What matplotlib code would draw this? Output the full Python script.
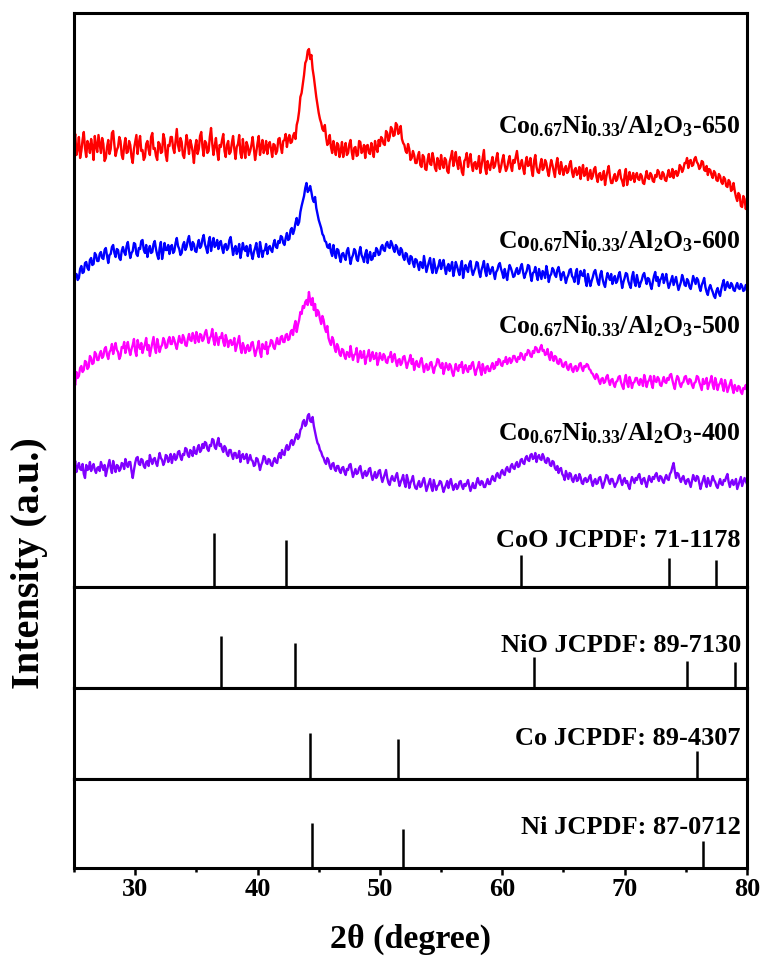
import numpy as np
import matplotlib
matplotlib.use("Agg")
import matplotlib.pyplot as plt

plt.rcParams.update({
    "font.family": ["Liberation Serif", "DejaVu Serif"],
    "font.weight": "bold",
    "mathtext.default": "regular",
})

# 2theta grid, 0.1 deg step from 25 to 80
two_theta = np.linspace(25.0, 80.0, 551)

# intensities (a.u.), each curve relative to its own baseline; one row = 2 deg
cnao_650 = [
    72, 81, 60, 66, 78, 57, 64, 75, 83, 67, 58, 74, 70, 62, 76, 68, 55, 79, 69, 63,
    80, 71, 62, 77, 71, 54, 57, 68, 75, 61, 66, 82, 84, 70, 59, 65, 68, 78, 74, 60,
    56, 69, 77, 62, 63, 74, 70, 58, 52, 66, 73, 80, 61, 72, 79, 64, 65, 55, 58, 71,
    74, 65, 60, 78, 82, 66, 67, 59, 55, 73, 71, 62, 63, 81, 76, 60, 54, 70, 69, 78,
    78, 67, 62, 74, 86, 70, 64, 77, 73, 60, 57, 69, 80, 72, 61, 75, 70, 63, 52, 68,
    75, 61, 66, 79, 83, 68, 59, 74, 72, 62, 64, 78, 87, 71, 60, 69, 77, 64, 55, 70,
    68, 75, 81, 64, 58, 70, 74, 61, 63, 72, 79, 66, 56, 68, 71, 80, 62, 57, 76, 65,
    57, 73, 69, 60, 64, 70, 78, 66, 55, 63, 72, 79, 60, 68, 75, 62, 66, 74, 61, 70,
    73, 66, 58, 71, 70, 61, 64, 76, 77, 68, 62, 74, 75, 81, 68, 76, 80, 72, 73, 79,
    82, 76, 90, 95, 104, 118, 122, 131, 140, 152, 155, 164, 166, 156, 160, 146, 138, 128, 118, 110,
    102, 96, 92, 86, 84, 90, 78, 70, 72, 80, 68, 62, 74, 66, 60, 72, 70, 58, 64, 73,
    58, 66, 72, 60, 62, 71, 75, 63, 56, 67, 68, 59, 60, 74, 73, 62, 64, 70, 57, 69,
    70, 62, 61, 72, 66, 58, 74, 67, 63, 75, 69, 78, 76, 71, 70, 84, 82, 74, 78, 88,
    86, 79, 80, 92, 90, 81, 84, 89, 76, 72, 70, 64, 62, 71, 66, 55, 57, 64, 60, 52,
    52, 59, 63, 50, 48, 60, 58, 46, 45, 55, 61, 51, 50, 62, 56, 47, 44, 57, 53, 46,
    60, 51, 47, 57, 55, 44, 42, 53, 58, 64, 49, 55, 63, 52, 46, 58, 52, 43, 40, 54,
    56, 62, 48, 55, 61, 50, 44, 52, 53, 46, 50, 59, 42, 49, 57, 65, 47, 41, 54, 49,
    45, 52, 58, 47, 49, 56, 62, 51, 43, 48, 55, 60, 50, 44, 47, 54, 59, 49, 44, 55,
    52, 58, 64, 54, 46, 50, 55, 47, 41, 52, 58, 49, 50, 57, 45, 39, 54, 60, 48, 43,
    42, 50, 56, 45, 47, 55, 52, 44, 39, 48, 55, 50, 44, 38, 50, 57, 46, 41, 53, 47,
    40, 46, 49, 42, 44, 51, 54, 43, 38, 45, 47, 40, 42, 48, 36, 44, 50, 39, 41, 47,
    35, 40, 45, 36, 39, 46, 48, 38, 33, 41, 42, 35, 37, 44, 30, 38, 44, 49, 38, 32,
    32, 38, 41, 34, 36, 43, 45, 37, 34, 29, 40, 46, 30, 36, 43, 35, 37, 42, 33, 39,
    42, 36, 35, 41, 39, 32, 31, 38, 44, 37, 36, 42, 40, 34, 33, 40, 38, 45, 43, 37,
    36, 43, 41, 35, 34, 40, 45, 38, 39, 46, 37, 43, 44, 39, 42, 50, 48, 43, 46, 52,
    52, 57, 47, 54, 55, 49, 50, 56, 58, 53, 51, 46, 48, 54, 53, 45, 44, 49, 40, 46,
    45, 40, 37, 44, 42, 35, 34, 41, 39, 33, 31, 38, 36, 29, 28, 35, 33, 24, 26, 32,
    24, 18, 14, 22, 20, 9, 8, 19, 16, 6, 12,
]
cnao_600 = [
    18, 24, 26, 20, 22, 31, 34, 27, 28, 37, 38, 32, 30, 40, 42, 35, 36, 47, 45, 39,
    39, 46, 48, 42, 41, 50, 52, 44, 37, 45, 46, 53, 55, 47, 43, 51, 50, 42, 40, 49,
    53, 48, 45, 54, 58, 49, 42, 47, 49, 57, 56, 46, 44, 52, 51, 59, 60, 50, 47, 55,
    43, 50, 54, 47, 48, 56, 59, 51, 45, 41, 52, 58, 41, 48, 57, 50, 50, 55, 46, 53,
    55, 47, 49, 57, 62, 54, 51, 45, 47, 55, 58, 50, 53, 60, 64, 55, 50, 58, 56, 49,
    48, 55, 60, 52, 54, 61, 65, 56, 52, 47, 58, 63, 49, 56, 62, 53, 55, 60, 51, 57,
    59, 52, 47, 55, 56, 50, 52, 60, 63, 54, 45, 51, 54, 46, 50, 56, 42, 49, 57, 51,
    49, 54, 44, 50, 55, 46, 41, 48, 52, 57, 47, 43, 58, 51, 43, 49, 50, 56, 46, 52,
    54, 50, 48, 56, 60, 53, 52, 59, 57, 64, 63, 57, 55, 62, 67, 60, 61, 70, 72, 66,
    70, 77, 82, 75, 78, 88, 94, 99, 104, 112, 117, 108, 110, 114, 108, 101, 98, 103, 92, 86,
    80, 76, 72, 66, 64, 59, 58, 53, 52, 56, 48, 44, 55, 47, 42, 51, 50, 43, 38, 46,
    47, 43, 40, 49, 52, 44, 36, 42, 45, 51, 49, 41, 39, 47, 53, 45, 42, 38, 46, 50,
    37, 44, 48, 40, 41, 47, 44, 52, 50, 45, 46, 53, 55, 50, 49, 56, 58, 53, 52, 59,
    56, 51, 48, 55, 53, 47, 45, 52, 50, 43, 40, 47, 46, 39, 36, 44, 43, 37, 33, 41,
    40, 35, 30, 38, 37, 32, 44, 36, 28, 33, 38, 42, 32, 27, 41, 34, 27, 31, 35, 40,
    31, 36, 40, 32, 26, 33, 36, 29, 33, 38, 24, 30, 38, 34, 29, 25, 34, 39, 22, 30,
    35, 31, 28, 36, 39, 30, 25, 29, 32, 38, 37, 28, 23, 30, 34, 39, 29, 24, 36, 31,
    26, 30, 33, 27, 21, 28, 30, 35, 37, 31, 27, 22, 31, 25, 20, 29, 35, 32, 28, 23,
    24, 29, 32, 26, 27, 33, 36, 28, 22, 26, 29, 35, 34, 25, 19, 27, 28, 33, 25, 20,
    31, 26, 21, 29, 27, 22, 34, 28, 18, 24, 26, 32, 30, 25, 23, 30, 33, 27, 20, 26,
    28, 23, 17, 22, 25, 30, 31, 24, 22, 18, 27, 31, 16, 22, 29, 25, 24, 30, 19, 14,
    26, 20, 14, 19, 23, 28, 30, 24, 18, 15, 25, 29, 21, 16, 13, 21, 27, 23, 20, 26,
    16, 21, 24, 17, 19, 25, 28, 20, 12, 18, 22, 27, 26, 19, 15, 12, 23, 28, 18, 14,
    25, 19, 13, 17, 20, 25, 27, 21, 16, 22, 21, 15, 11, 18, 24, 28, 19, 23, 14, 20,
    22, 26, 17, 21, 26, 18, 12, 16, 20, 24, 15, 19, 23, 16, 10, 14, 18, 25, 21, 15,
    14, 21, 19, 13, 11, 17, 24, 20, 16, 22, 20, 13, 9, 15, 18, 22, 13, 8, 5, 12,
    15, 11, 8, 4, 2, 9, 12, 7, 4, 11, 16, 20, 10, 14, 18, 13, 12, 17, 15, 10,
    9, 14, 17, 12, 11, 16, 14, 9, 10, 15, 13,
]
cnao_500 = [
    20, 15, 28, 22, 24, 32, 34, 28, 30, 39, 38, 31, 33, 44, 42, 36, 37, 48, 46, 40,
    40, 46, 49, 42, 44, 51, 53, 45, 41, 48, 50, 56, 46, 52, 57, 50, 48, 41, 44, 53,
    52, 58, 47, 53, 58, 50, 45, 51, 55, 61, 49, 44, 60, 54, 51, 57, 47, 52, 56, 62,
    50, 55, 44, 51, 57, 63, 52, 47, 61, 55, 48, 53, 55, 62, 59, 52, 53, 60, 63, 56,
    56, 63, 60, 55, 51, 58, 64, 58, 57, 65, 62, 55, 54, 61, 66, 60, 59, 67, 63, 57,
    68, 62, 58, 66, 65, 59, 61, 67, 70, 63, 57, 62, 64, 71, 60, 55, 67, 61, 55, 63,
    62, 67, 58, 54, 65, 60, 53, 59, 60, 55, 56, 62, 49, 54, 59, 64, 52, 47, 57, 53,
    47, 52, 55, 49, 50, 57, 58, 51, 44, 49, 53, 59, 48, 43, 56, 52, 51, 58, 46, 53,
    54, 60, 59, 53, 51, 57, 62, 56, 56, 63, 64, 58, 58, 65, 66, 60, 61, 68, 70, 65,
    74, 79, 68, 75, 80, 88, 86, 94, 92, 98, 100, 95, 108, 99, 95, 102, 90, 96, 84, 90,
    88, 81, 76, 84, 80, 72, 68, 74, 62, 58, 55, 63, 60, 52, 48, 56, 53, 46, 44, 51,
    50, 44, 41, 48, 47, 43, 54, 46, 40, 45, 46, 52, 38, 44, 49, 42, 43, 49, 36, 42,
    45, 50, 39, 44, 48, 41, 42, 47, 35, 40, 47, 42, 40, 46, 44, 38, 37, 43, 43, 48,
    38, 43, 46, 39, 34, 40, 41, 35, 37, 43, 44, 38, 32, 37, 40, 45, 36, 41, 30, 36,
    39, 34, 33, 39, 42, 35, 28, 34, 36, 30, 31, 37, 38, 32, 27, 33, 35, 41, 40, 34,
    32, 37, 26, 31, 37, 33, 30, 36, 34, 28, 24, 30, 36, 31, 29, 35, 33, 38, 27, 32,
    35, 30, 28, 34, 31, 36, 38, 31, 25, 30, 33, 38, 30, 25, 36, 31, 27, 33, 34, 29,
    29, 34, 37, 31, 32, 38, 35, 41, 40, 35, 34, 39, 38, 43, 36, 40, 42, 37, 39, 44,
    44, 40, 38, 43, 41, 47, 46, 41, 40, 46, 45, 50, 49, 44, 43, 49, 47, 53, 52, 48,
    48, 52, 55, 49, 50, 45, 46, 51, 44, 40, 48, 43, 39, 44, 43, 37, 36, 41, 40, 34,
    33, 37, 38, 32, 30, 35, 36, 30, 28, 33, 34, 29, 31, 36, 37, 32, 29, 34, 33, 36,
    35, 31, 30, 27, 26, 23, 21, 26, 24, 19, 16, 21, 22, 17, 18, 23, 25, 19, 15, 20,
    21, 16, 13, 18, 19, 23, 24, 18, 14, 11, 20, 25, 17, 13, 23, 19, 12, 17, 18, 22,
    22, 17, 15, 21, 19, 14, 25, 20, 13, 18, 20, 24, 16, 12, 24, 19, 18, 23, 21, 15,
    14, 19, 23, 18, 17, 22, 20, 25, 26, 20, 15, 11, 19, 24, 22, 16, 13, 17, 18, 23,
    24, 19, 16, 21, 20, 15, 12, 17, 18, 24, 23, 18, 14, 10, 21, 16, 17, 22, 11, 16,
    19, 24, 15, 11, 22, 17, 10, 15, 17, 21, 14, 9, 20, 15, 8, 12, 16, 20, 12, 7,
    15, 11, 9, 14, 13, 8, 6, 12, 11, 15, 10,
]
cnao_400 = [
    34, 39, 28, 33, 37, 31, 30, 36, 26, 22, 35, 30, 31, 38, 29, 33, 36, 30, 27, 32,
    33, 29, 38, 34, 30, 35, 24, 30, 35, 40, 32, 27, 39, 33, 28, 35, 34, 29, 31, 37,
    36, 31, 41, 36, 33, 38, 38, 29, 22, 30, 37, 42, 43, 36, 35, 41, 40, 34, 32, 38,
    39, 34, 45, 40, 36, 41, 42, 37, 34, 41, 47, 42, 40, 35, 38, 45, 44, 38, 41, 46,
    37, 43, 46, 40, 42, 48, 49, 43, 40, 46, 45, 52, 51, 45, 43, 50, 48, 44, 53, 47,
    46, 52, 55, 48, 50, 56, 52, 58, 57, 51, 49, 55, 54, 61, 60, 53, 51, 57, 62, 54,
    56, 51, 48, 54, 52, 46, 44, 50, 50, 45, 41, 47, 47, 42, 43, 49, 38, 44, 46, 41,
    42, 46, 37, 41, 45, 40, 39, 34, 35, 42, 41, 36, 30, 35, 38, 44, 43, 37, 36, 41,
    40, 35, 34, 39, 42, 38, 37, 44, 47, 42, 50, 46, 45, 52, 55, 50, 52, 58, 60, 55,
    58, 63, 66, 61, 63, 70, 72, 78, 80, 74, 76, 84, 86, 79, 78, 83, 74, 68, 62, 57,
    55, 50, 48, 44, 42, 38, 36, 42, 40, 34, 31, 36, 37, 31, 29, 34, 34, 29, 27, 32,
    33, 28, 25, 31, 30, 35, 36, 29, 23, 27, 31, 26, 27, 32, 34, 27, 22, 27, 29, 24,
    26, 31, 32, 25, 20, 24, 28, 22, 24, 29, 30, 23, 18, 22, 26, 30, 22, 17, 15, 21,
    24, 20, 19, 24, 27, 20, 14, 18, 21, 25, 17, 13, 25, 20, 12, 17, 20, 24, 16, 12,
    11, 16, 19, 13, 14, 19, 22, 16, 9, 13, 17, 21, 13, 9, 20, 15, 10, 14, 15, 19,
    18, 13, 8, 12, 15, 19, 12, 17, 21, 15, 10, 14, 16, 11, 13, 18, 19, 14, 11, 16,
    14, 17, 20, 14, 9, 13, 17, 12, 12, 18, 22, 17, 15, 19, 18, 13, 13, 17, 21, 16,
    16, 21, 24, 20, 19, 25, 27, 23, 22, 28, 30, 26, 25, 31, 33, 29, 28, 34, 36, 32,
    31, 36, 38, 33, 34, 40, 41, 37, 36, 42, 44, 40, 39, 45, 46, 41, 42, 47, 38, 43,
    45, 41, 40, 46, 43, 38, 37, 42, 41, 35, 34, 39, 38, 32, 30, 34, 27, 31, 32, 26,
    24, 20, 29, 25, 21, 27, 26, 20, 18, 23, 25, 19, 20, 26, 23, 17, 16, 21, 22, 18,
    19, 23, 25, 18, 14, 19, 21, 16, 17, 22, 23, 18, 12, 16, 20, 25, 24, 19, 16, 21,
    21, 17, 13, 16, 18, 23, 25, 19, 15, 20, 22, 17, 19, 14, 11, 18, 23, 20, 17, 22,
    20, 24, 26, 20, 16, 21, 22, 17, 13, 19, 24, 20, 18, 23, 21, 25, 27, 22, 19, 24,
    23, 19, 17, 22, 25, 21, 20, 26, 28, 33, 37, 29, 22, 27, 26, 21, 18, 22, 24, 19,
    16, 20, 21, 17, 13, 19, 25, 21, 19, 24, 23, 17, 11, 16, 20, 24, 17, 13, 22, 18,
    14, 19, 24, 20, 18, 14, 12, 17, 21, 16, 15, 20, 19, 23, 26, 18, 13, 18, 20, 15,
    17, 21, 11, 15, 19, 23, 14, 18, 22, 19, 16,
]

curve_labels = [
    r"Co$_{0.67}$Ni$_{0.33}$/Al$_2$O$_3$-650",
    r"Co$_{0.67}$Ni$_{0.33}$/Al$_2$O$_3$-600",
    r"Co$_{0.67}$Ni$_{0.33}$/Al$_2$O$_3$-500",
    r"Co$_{0.67}$Ni$_{0.33}$/Al$_2$O$_3$-400",
]
curves = [cnao_650, cnao_600, cnao_500, cnao_400]
curve_colors = ["#ff0000", "#0000ff", "#ff00ff", "#8000ff"]
curve_offsets = [372, 287, 187, 87]
label_y = [454, 339, 254, 147]

# reference patterns: positions (2theta) and relative intensities
coo_pos = [36.45, 42.35, 61.5, 73.65, 77.5]
coo_int = [100, 87, 59, 54, 50]
nio_pos = [37.05, 43.05, 62.6, 75.1, 79.05]
nio_int = [100, 87, 60, 52, 50]
co_pos = [44.25, 51.5, 75.95]
co_int = [100, 87, 61]
ni_pos = [44.45, 51.85, 76.4]
ni_int = [100, 87, 60]

for c in curves:
    assert len(c) == len(two_theta), len(c)

W, H = 761, 956
fig = plt.figure(figsize=(W / 100, H / 100), dpi=100)


def px_axes(left, top, right, bottom):
    return fig.add_axes([left / W, 1 - bottom / H, (right - left) / W, (bottom - top) / H])


ax_top = px_axes(74, 13, 747, 587)
ax_nio = px_axes(74, 587, 747, 688)
ax_co = px_axes(74, 688, 747, 779)
ax_ni = px_axes(74, 779, 747, 868)
all_axes = [ax_top, ax_nio, ax_co, ax_ni]

for ax in all_axes:
    ax.set_xlim(25, 80)
    ax.set_yticks([])
    for sp in ax.spines.values():
        sp.set_linewidth(2.2)
    if ax is not ax_ni:
        ax.tick_params(bottom=False, labelbottom=False)

# top panel: measured patterns + CoO reference
ax_top.set_ylim(0, 574)
for vals, col, off, lab, ly in zip(curves, curve_colors, curve_offsets, curve_labels, label_y):
    ax_top.plot(two_theta, off + np.asarray(vals), color=col, lw=1.7)
    ax_top.text(0.991, ly, lab, transform=ax_top.get_yaxis_transform(),
                ha="right", va="baseline", fontsize=18.5, fontweight="bold")

ax_top.vlines(coo_pos, 0, np.asarray(coo_int) * 0.54, color="black", lw=1.8)
ax_top.text(0.991, 40, "CoO JCPDF: 71-1178", transform=ax_top.get_yaxis_transform(),
            ha="right", va="baseline", fontsize=19, fontweight="bold")

ref_panels = [
    (ax_nio, nio_pos, nio_int, "NiO JCPDF: 89-7130", 101, 52, 36),
    (ax_co, co_pos, co_int, "Co JCPDF: 89-4307", 91, 46, 34),
    (ax_ni, ni_pos, ni_int, "Ni JCPDF: 87-0712", 89, 45, 34),
]
for ax, pos, inten, lab, h_px, max_px, lab_px in ref_panels:
    ax.set_ylim(0, 100 * h_px / max_px)
    ax.vlines(pos, 0, inten, color="black", lw=1.8)
    ax.text(0.991, lab_px / h_px, lab, transform=ax.transAxes,
            ha="right", va="baseline", fontsize=19, fontweight="bold")

ax_ni.set_xticks([30, 40, 50, 60, 70, 80])
ax_ni.set_xticks([25, 35, 45, 55, 65, 75], minor=True)
ax_ni.tick_params(axis="x", which="major", direction="out", length=5, width=1.8,
                  labelsize=19, pad=2)
ax_ni.tick_params(axis="x", which="minor", direction="out", length=3.2, width=1.8)

fig.text(410 / W, 1 - 948 / H, "2θ (degree)", ha="center", va="baseline",
         fontsize=24.5, fontweight="bold")
fig.text(29 / W, 1 - 563 / H, "Intensity (a.u.)", rotation=90, ha="center",
         va="center", fontsize=29, fontweight="bold")

fig.savefig("out.png", dpi=100)
